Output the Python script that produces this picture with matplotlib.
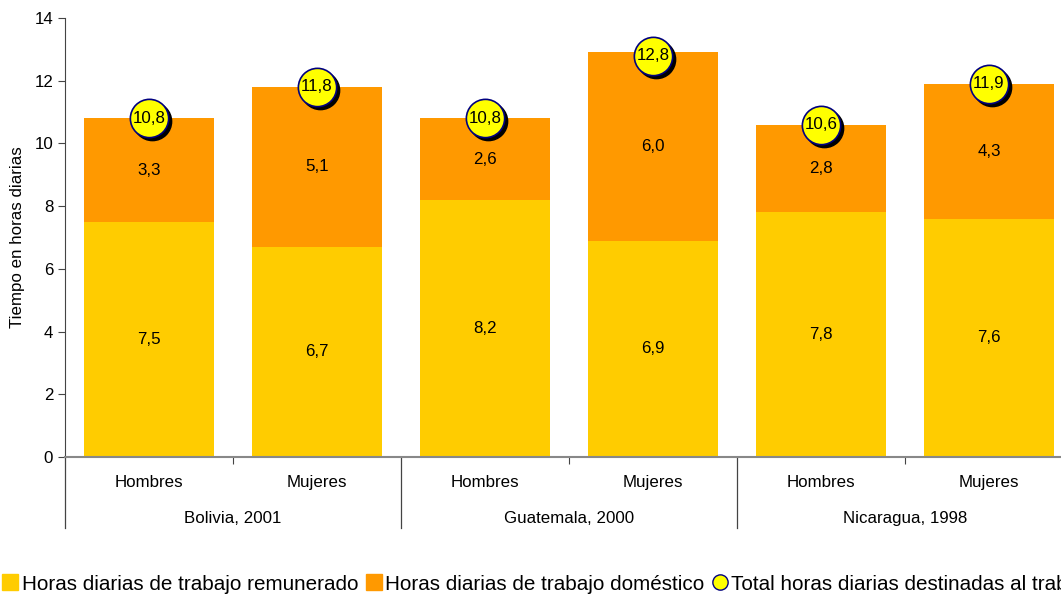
import matplotlib
matplotlib.use("Agg")
import matplotlib.pyplot as plt
from matplotlib.lines import Line2D
from matplotlib.transforms import offset_copy
import numpy as np

plt.rcParams["font.family"] = ["Liberation Sans", "DejaVu Sans"]

groups = ["Bolivia, 2001", "Guatemala, 2000", "Nicaragua, 1998"]
sexes = ["Hombres", "Mujeres"]
paid = [7.5, 6.7, 8.2, 6.9, 7.8, 7.6]
domestic = [3.3, 5.1, 2.6, 6.0, 2.8, 4.3]
totals = [10.8, 11.8, 10.8, 12.8, 10.6, 11.9]

C_PAID = "#FFCC00"
C_DOM = "#FF9900"
C_TOT = "#FFFF00"
FS = 12.2


def fmt(v):
    return f"{v:.1f}".replace(".", ",")


fig = plt.figure(figsize=(10.61, 5.94), dpi=100)
ax = fig.add_axes([65 / 1061, 137 / 594, 1008 / 1061, 439 / 594])

x = np.arange(len(paid))
ax.bar(x, paid, width=0.77, color=C_PAID, zorder=2)
ax.bar(x, domestic, width=0.77, bottom=paid, color=C_DOM, zorder=2)

for xi, p, d in zip(x, paid, domestic):
    ax.text(xi, p / 2, fmt(p), ha="center", va="center", fontsize=FS, zorder=3)
    ax.text(xi, p + d / 2, fmt(d), ha="center", va="center", fontsize=FS, zorder=3)

# total markers with a small drop shadow
shadow = offset_copy(ax.transData, fig=fig, x=3, y=-3, units="dots")
ax.scatter(x, totals, s=760, color="black", transform=shadow, zorder=4, clip_on=False)
ax.scatter(x, totals, s=760, color=C_TOT, edgecolor="#000080", linewidth=1.2,
           zorder=5, clip_on=False)
for xi, t in zip(x, totals):
    ax.text(xi, t, fmt(t), ha="center", va="center", fontsize=FS, zorder=6)

ax.set_xlim(-0.5, 5.5)
ax.set_ylim(0, 14)
ax.set_yticks(np.arange(0, 15, 2))
ax.tick_params(axis="y", length=5, labelsize=FS, color="#444444")
ax.set_ylabel("Tiempo en horas diarias", fontsize=FS)
ax.yaxis.set_label_coords(-40 / 1008, 0.5)

ax.set_xticks(x[::2] + 0.5)
ax.set_xticklabels([])
ax.tick_params(axis="x", length=5, color="#444444")

for s in ["top", "right"]:
    ax.spines[s].set_visible(False)
ax.spines["left"].set_color("#444444")
ax.spines["bottom"].set_color("#888888")
ax.spines["bottom"].set_linewidth(1.5)

# two-level category axis
xt = ax.get_xaxis_transform()
for xi in x:
    ax.text(xi, -30 / 439, sexes[xi % 2], transform=xt, ha="center", va="baseline",
            fontsize=FS, clip_on=False)
for gi, g in enumerate(groups):
    ax.text(2 * gi + 0.5, -66 / 439, g, transform=xt, ha="center", va="baseline",
            fontsize=FS, clip_on=False)
for b in [-0.5, 1.5, 3.5, 5.5]:
    ax.plot([b, b], [0, -71 / 439], transform=xt, color="#444444", lw=0.9,
            clip_on=False)

handles = [
    Line2D([], [], marker="s", ls="none", markersize=11, markerfacecolor=C_PAID,
           markeredgecolor=C_PAID),
    Line2D([], [], marker="s", ls="none", markersize=11, markerfacecolor=C_DOM,
           markeredgecolor=C_DOM),
    Line2D([], [], marker="o", ls="none", markersize=11, markerfacecolor=C_TOT,
           markeredgecolor="#000080"),
]
labels = [
    "Horas diarias de trabajo remunerado",
    "Horas diarias de trabajo doméstico",
    "Total horas diarias destinadas al trabajo",
]
fig.legend(handles, labels, loc="center left", bbox_to_anchor=(-0.004, 10 / 594),
           ncol=3, frameon=False, fontsize=14.9, handlelength=0.6,
           handletextpad=0.25, columnspacing=0.45, borderaxespad=0)

fig.savefig("out.png", dpi=100)
